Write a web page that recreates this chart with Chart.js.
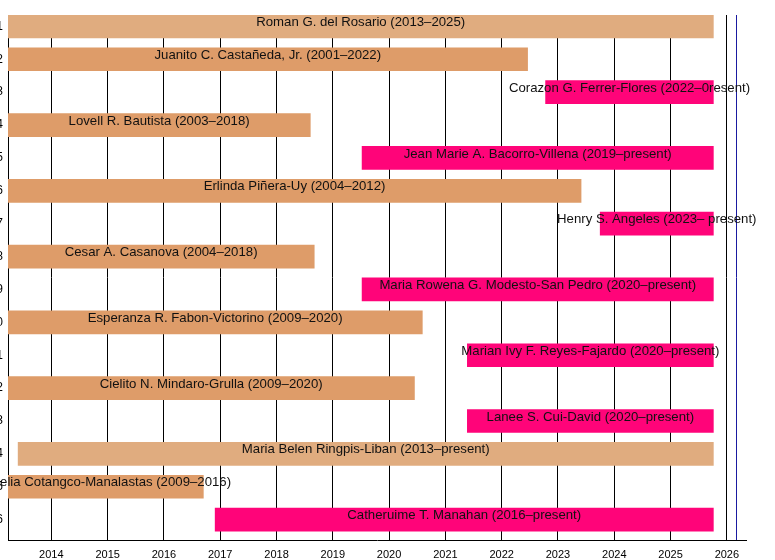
<!DOCTYPE html>
<html>
<head>
<meta charset="utf-8">
<script src="https://cdn.jsdelivr.net/npm/chart.js@4/dist/chart.umd.min.js"></script>
<style>
	html, body { margin: 0; padding: 0; background: #fff; overflow: hidden; }
	#wrap { position: absolute; left: -32px; top: 0; width: 807px; height: 560px; }
</style>
</head>
<body>
<div id="wrap"><canvas id="timeline"></canvas></div>
<script>

// seats, top to bottom
var seats = ["Seat 1", "Seat 2", "Seat 3", "Seat 4", "Seat 5", "Seat 6", "Seat 7", "Seat 8",
	"Seat 9", "Seat 10", "Seat 11", "Seat 12", "Seat 13", "Seat 14", "Seat 15", "Seat 16"];

var names = [
	"Roman G. del Rosario (2013\u20132025)",
	"Juanito C. Casta\u00f1eda, Jr. (2001\u20132022)",
	"Corazon G. Ferrer-Flores (2022\u20130resent)",
	"Lovell R. Bautista (2003\u20132018)",
	"Jean Marie A. Bacorro-Villena (2019\u2013present)",
	"Erlinda Pi\u00f1era-Uy (2004\u20132012)",
	"Henry S. Angeles (2023\u2013 present)",
	"Cesar A. Casanova (2004\u20132018)",
	"Maria Rowena G. Modesto-San Pedro (2020\u2013present)",
	"Esperanza R. Fabon-Victorino (2009\u20132020)",
	"Marian Ivy F. Reyes-Fajardo (2020\u2013present)",
	"Cielito N. Mindaro-Grulla (2009\u20132020)",
	"Lanee S. Cui-David (2020\u2013present)",
	"Maria Belen Ringpis-Liban (2013\u2013present)",
	"Amelia Cotangco-Manalastas (2009\u20132016)",
	"Catheruime T. Manahan (2016\u2013present)"
];

// term start / end as drawn (years)
var starts = [2013.0, 2013.0, 2022.78, 2013.0, 2019.52, 2013.0, 2023.75, 2013.0,
	2019.52, 2013.0, 2021.39, 2013.0, 2021.39, 2013.41, 2013.0, 2016.91];
var ends = [2025.76, 2022.46, 2025.76, 2018.6, 2025.76, 2023.41, 2025.76, 2018.67,
	2025.76, 2020.59, 2025.76, 2020.45, 2025.76, 2025.76, 2016.7, 2025.76];

// group of each bar: presiding, associate, new
var groups = ["pj", "aj", "new", "aj", "new", "aj", "new", "aj",
	"new", "aj", "new", "aj", "new", "pj", "aj", "new"];

var years = [2014, 2015, 2016, 2017, 2018, 2019, 2020, 2021, 2022, 2023, 2024, 2025, 2026];
var todayLine = 2026.16;

var groupColors = { pj: "#E0AC7F", aj: "#DE9C69", new: "#FF0479" };

var barLabels = {
	id: 'barLabels',
	afterDatasetsDraw: function(chart){
		var ctx = chart.ctx;
		var xs = chart.scales.x;
		var area = chart.chartArea;

		// today marker
		var tx = xs.getPixelForValue(todayLine);
		ctx.save();
		ctx.strokeStyle = "#1a1aa0";
		ctx.lineWidth = 1;
		ctx.beginPath();
		ctx.moveTo(Math.round(tx) + 0.5, area.top);
		ctx.lineTo(Math.round(tx) + 0.5, area.bottom);
		ctx.stroke();

		ctx.font = "13.2px 'Liberation Sans', Arial, sans-serif";
		ctx.fillStyle = "#111";
		ctx.textAlign = "center";
		ctx.textBaseline = "middle";
		chart.getDatasetMeta(0).data.forEach(function(bar, i){
			// centre on the visible part of the bar
			var x0 = Math.max(area.left, Math.min(bar.x, bar.base));
			var x1 = Math.min(area.right, Math.max(bar.x, bar.base));
			ctx.fillText(names[i], (x0 + x1) / 2, bar.y - 4);
		});
		ctx.restore();
	}
};

var chart_element = document.getElementById('timeline');
var chart_timeline = new Chart(chart_element, {
	type: 'bar',
	data: {
		datasets: [{
			data: seats.map(function(s, i){ return { y: i + 1, x: [starts[i], ends[i]] }; }),
			backgroundColor: groups.map(function(g){ return groupColors[g]; }),
			borderWidth: 0,
			barThickness: 23
		}]
	},
	options: {
		indexAxis: 'y',
		responsive: true,
		maintainAspectRatio: false,
		animation: false,
		layout: { padding: { top: 15, right: 29, bottom: 0, left: 0 } },
		plugins: { legend: { display: false }, tooltip: { enabled: false } },
		scales: {
			x: {
				type: 'linear',
				offset: false,
				min: 2013.23,
				max: 2026.34,
				afterBuildTicks: function(scale){
					scale.ticks = years.map(function(y){ return { value: y }; });
				},
				afterFit: function(scale){ scale.height = 20; },
				grid: { color: "#000", lineWidth: 1, drawTicks: false },
				border: { display: true, color: "#000", width: 1 },
				ticks: {
					padding: 8,
					color: "#000",
					font: { family: "'Liberation Sans', Arial, sans-serif", size: 11 },
					maxRotation: 0,
					callback: function(v){ return String(v); }
				}
			},
			y: {
				type: 'linear',
				offset: false,
				reverse: true,
				min: 0.653,
				max: 16.62,
				afterBuildTicks: function(scale){
					scale.ticks = seats.map(function(s, i){ return { value: i + 1 }; });
				},
				afterFit: function(scale){ scale.width = 40; },
				grid: { display: false, drawTicks: false },
				border: { display: true, color: "#000", width: 1 },
				ticks: {
					padding: 5,
					color: "#000",
					font: { family: "'Liberation Sans', Arial, sans-serif", size: 12 },
					callback: function(v){ return seats[v - 1]; }
				}
			}
		}
	},
	plugins: [barLabels]
});

</script>
</body>
</html>
